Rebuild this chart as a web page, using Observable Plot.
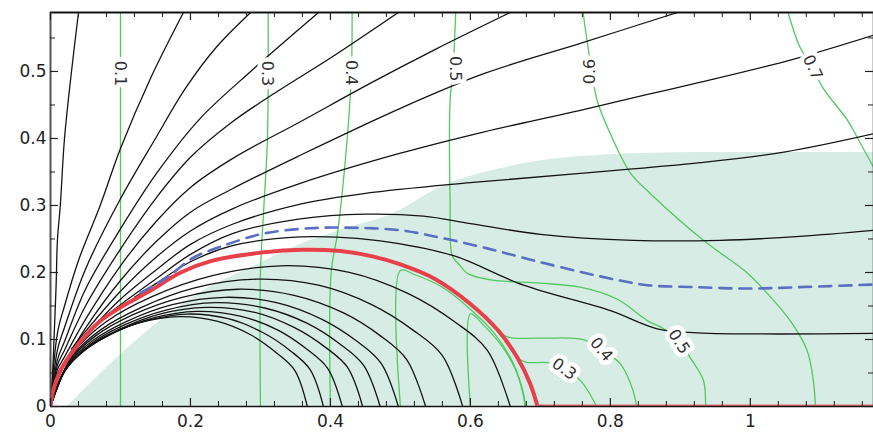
<!DOCTYPE html>
<html><head><meta charset="utf-8">
<script src="https://cdn.jsdelivr.net/npm/d3@7"></script>
<script src="https://cdn.jsdelivr.net/npm/@observablehq/plot@0.6"></script>
<style>body{margin:0;background:#fff;}</style>
</head><body><div id="chart"></div>
<script>
// ---- axis ticks ----
const xMajor = [0, 0.2, 0.4, 0.6, 0.8, 1];
const xMajorLabels = ["0", "0.2", "0.4", "0.6", "0.8", "1"];
const xMinor = [0.04,0.08,0.12,0.16,0.24,0.28,0.32,0.36,0.44,0.48,0.52,0.56,0.64,0.68,0.72,0.76,0.84,0.88,0.92,0.96,1.04,1.08,1.12,1.16];
const yMajor = [0, 0.1, 0.2, 0.3, 0.4, 0.5];
const yMajorLabels = ["0", "0.1", "0.2", "0.3", "0.4", "0.5"];
const yMinor = [0.05, 0.15, 0.25, 0.35, 0.45, 0.55];
const xMax = 1.176, yMax = 0.588;

// ---- shaded region (upper edge) ----
const tealEdge = [[0.024,0],[0.157,0.128],[0.214,0.17],[0.286,0.207],[0.357,0.242],[0.43,0.268],[0.49,0.288],[0.52,0.305],[0.547,0.322],[0.643,0.355],[0.786,0.375],[0.929,0.379],[1.176,0.379]];

// ---- black fan contours ----
const F1 = [[0,0],[0.003,0.05],[0.005,0.1],[0.008,0.18],[0.01,0.25],[0.014,0.3],[0.02,0.4],[0.03,0.5],[0.04,0.588]];
const F2 = [[0,0],[0.01,0.11],[0.02,0.15],[0.04,0.218],[0.071,0.3],[0.1,0.385],[0.143,0.49],[0.19,0.588]];
const F3 = [[0,0],[0.01,0.085],[0.02,0.118],[0.05,0.205],[0.1,0.31],[0.15,0.4],[0.193,0.475],[0.236,0.535],[0.286,0.588]];
const F4 = [[0,0],[0.01,0.07],[0.02,0.097],[0.05,0.175],[0.1,0.265],[0.153,0.35],[0.214,0.43],[0.286,0.5],[0.324,0.535],[0.383,0.588]];
const F5 = [[0,0],[0.01,0.062],[0.02,0.084],[0.05,0.15],[0.1,0.235],[0.15,0.31],[0.2,0.372],[0.26,0.425],[0.324,0.47],[0.4,0.52],[0.497,0.588]];
const F6 = [[0,0],[0.01,0.055],[0.02,0.074],[0.05,0.13],[0.1,0.21],[0.15,0.275],[0.2,0.327],[0.26,0.37],[0.357,0.425],[0.46,0.484],[0.55,0.533],[0.657,0.588]];
const F7 = [[0,0],[0.01,0.049],[0.02,0.066],[0.05,0.117],[0.1,0.188],[0.15,0.245],[0.2,0.29],[0.26,0.325],[0.357,0.375],[0.5,0.445],[0.62,0.497],[0.757,0.542],[0.896,0.588]];
const F8 = [[0.03,0.086],[0.05,0.112],[0.1,0.172],[0.15,0.222],[0.2,0.262],[0.26,0.295],[0.357,0.333],[0.5,0.378],[0.62,0.41],[0.757,0.442],[0.85,0.465],[0.929,0.484],[1.061,0.518],[1.176,0.554]];
const F9 = [[0.055,0.112],[0.1,0.16],[0.15,0.203],[0.2,0.242],[0.26,0.272],[0.357,0.302],[0.45,0.318],[0.6,0.334],[0.757,0.348],[0.929,0.364],[1.05,0.38],[1.176,0.407]];
const F10 = [[0.085,0.14],[0.1,0.152],[0.15,0.19],[0.2,0.227],[0.26,0.258],[0.357,0.28],[0.45,0.287],[0.533,0.284],[0.6,0.273],[0.7,0.257],[0.833,0.248],[0.957,0.248],[1.071,0.254],[1.176,0.263]];
const F11 = [[0.12,0.163],[0.15,0.183],[0.2,0.216],[0.26,0.24],[0.357,0.253],[0.42,0.252],[0.486,0.245],[0.576,0.225],[0.676,0.181],[0.8,0.143],[0.867,0.116],[0.924,0.11],[1.176,0.109]];

// ---- black closed arcs ----
const A1 = [[0,0],[0.033,0.08],[0.079,0.126],[0.145,0.164],[0.23,0.195],[0.329,0.21],[0.427,0.2],[0.512,0.168],[0.578,0.126],[0.624,0.084],[0.657,0]];
const A2 = [[0,0],[0.029,0.072],[0.071,0.114],[0.13,0.148],[0.206,0.177],[0.295,0.19],[0.383,0.181],[0.459,0.152],[0.518,0.114],[0.56,0.076],[0.589,0]];
const A3 = [[0,0],[0.027,0.067],[0.064,0.105],[0.118,0.137],[0.188,0.163],[0.268,0.175],[0.348,0.166],[0.418,0.14],[0.472,0.105],[0.509,0.07],[0.536,0]];
const A4 = [[0,0],[0.025,0.062],[0.06,0.098],[0.109,0.127],[0.174,0.152],[0.249,0.163],[0.323,0.155],[0.388,0.13],[0.437,0.098],[0.472,0.065],[0.497,0]];
const A5 = [[0,0],[0.024,0.059],[0.057,0.093],[0.104,0.121],[0.165,0.144],[0.236,0.155],[0.306,0.147],[0.367,0.124],[0.414,0.093],[0.447,0.062],[0.471,0]];
const A6 = [[0,0],[0.022,0.056],[0.054,0.089],[0.098,0.115],[0.156,0.138],[0.223,0.148],[0.29,0.141],[0.348,0.118],[0.392,0.089],[0.424,0.059],[0.446,0]];
const A7 = [[0,0],[0.021,0.054],[0.05,0.085],[0.092,0.111],[0.146,0.132],[0.209,0.142],[0.271,0.135],[0.325,0.114],[0.367,0.085],[0.396,0.057],[0.417,0]];
const A8 = [[0,0],[0.02,0.052],[0.047,0.083],[0.086,0.108],[0.137,0.128],[0.195,0.138],[0.254,0.131],[0.304,0.11],[0.343,0.083],[0.371,0.055],[0.39,0]];
const A9 = [[0,0],[0.018,0.051],[0.044,0.08],[0.081,0.105],[0.128,0.125],[0.184,0.134],[0.239,0.127],[0.286,0.107],[0.323,0.08],[0.349,0.054],[0.367,0]];

// ---- green contours ----
const g01 = [[0.1,0],[0.1,0.588]];
const g03 = [[0.3,0],[0.3,0.2],[0.305,0.3],[0.31,0.4],[0.311,0.588]];
const g04 = [[0.4,0],[0.401,0.2],[0.41,0.258],[0.424,0.4],[0.43,0.5],[0.431,0.588]];
const g05in = [[0.5,0],[0.5,0.203],[0.52,0.197],[0.56,0.178],[0.6,0.145],[0.635,0.108],[0.66,0.067],[0.674,0.027],[0.679,0]];
const g06in = [[0.6,0],[0.6,0.138],[0.62,0.12],[0.645,0.09],[0.664,0.056],[0.675,0.02],[0.678,0]];
const g05out = [[0.579,0.588],[0.575,0.5],[0.571,0.457],[0.571,0.307],[0.574,0.225],[0.583,0.213],[0.597,0.198],[0.629,0.189],[0.7,0.184],[0.757,0.178],[0.81,0.16],[0.853,0.128],[0.876,0.116],[0.9,0.095],[0.914,0.073],[0.933,0.039],[0.936,0.009],[0.936,0]];
const g04b = [[0.622,0.13],[0.64,0.112],[0.655,0.103],[0.7,0.102],[0.76,0.1],[0.787,0.085],[0.814,0.064],[0.829,0.034],[0.836,0.009],[0.837,0]];
const g03b = [[0.655,0.09],[0.668,0.072],[0.68,0.066],[0.715,0.065],[0.734,0.055],[0.757,0.039],[0.776,0.009],[0.78,0]];
const g06out = [[0.761,0.588],[0.771,0.516],[0.781,0.457],[0.8,0.407],[0.829,0.348],[0.857,0.318],[0.933,0.248],[0.996,0.199],[1.024,0.169],[1.057,0.128],[1.081,0.084],[1.09,0.039],[1.093,0]];
const g07 = [[1.054,0.588],[1.071,0.536],[1.089,0.506],[1.104,0.475],[1.139,0.427],[1.153,0.401],[1.176,0.357]];

// ---- red boundary & blue dashed ----
const redArc = [[0,0],[0.004,0.025],[0.015,0.055],[0.033,0.084],[0.067,0.124],[0.1,0.148],[0.143,0.173],[0.186,0.2],[0.229,0.217],[0.304,0.23],[0.36,0.234],[0.414,0.232],[0.46,0.224],[0.5,0.212],[0.55,0.19],[0.6,0.153],[0.64,0.113],[0.667,0.073],[0.685,0.035],[0.696,0]];
const redFloor = [[0.696,0],[1.176,0]];
const blueDash = [[0.129,0.17],[0.167,0.193],[0.204,0.222],[0.247,0.24],[0.304,0.258],[0.371,0.266],[0.419,0.267],[0.5,0.263],[0.557,0.252],[0.624,0.236],[0.69,0.218],[0.761,0.2],[0.814,0.188],[0.853,0.181],[0.924,0.178],[0.996,0.176],[1.067,0.178],[1.176,0.182]];

// ---- contour labels ----
const labText = ["0.1","0.3","0.4","0.5","0.6","0.7","0.5","0.4","0.3"];
const labX = [0.1, 0.31, 0.43, 0.578, 0.771, 1.089, 0.898, 0.787, 0.734];
const labY = [0.497, 0.497, 0.498, 0.504, 0.5, 0.506, 0.097, 0.085, 0.056];
const labRot = [90, 90, 90, 90, -90, 65, 58, 50, 35];

// ---- build tables ----
const toRows = (lines, tag) => lines.flatMap((a, i) => a.map(([x, y]) => ({x, y, id: tag + i})));
const black = toRows([F1,F2,F3,F4,F5,F6,F7,F8,F9,F10,F11,A1,A2,A3,A4,A5,A6,A7,A8,A9], "b");
const green = toRows([g01,g03,g04,g05in,g06in,g05out,g04b,g03b,g06out,g07], "g");
const labels = labText.map((t, i) => ({t, x: labX[i], y: labY[i], r: labRot[i]}));

const font = "DejaVu Sans, sans-serif";
const plot = Plot.plot({
  width: 873, height: 432,
  marginLeft: 50, marginRight: 0, marginTop: 12, marginBottom: 26,
  x: {domain: [0, xMax], axis: null},
  y: {domain: [0, yMax], axis: null},
  style: {fontFamily: font, background: "#fff"},
  marks: [
    Plot.areaY(tealEdge, {x: d => d[0], y1: 0, y2: d => d[1], fill: "#d7ece5", curve: "monotone-x"}),
    Plot.line(green, {x: "x", y: "y", z: "id", stroke: "#52c95f", strokeWidth: 1.3, curve: "catmull-rom", clip: true}),
    Plot.line(black, {x: "x", y: "y", z: "id", stroke: "#141414", strokeWidth: 1.3, curve: "catmull-rom", clip: true}),
    Plot.line(redArc, {x: d => d[0], y: d => d[1], stroke: "#e8404a", strokeWidth: 4, curve: "catmull-rom", clip: true}),
    Plot.line(redFloor, {x: d => d[0], y: d => d[1], stroke: "#ec6a72", strokeWidth: 4, clip: true}),
    Plot.line(blueDash, {x: d => d[0], y: d => d[1], stroke: "#5a6ec2", strokeWidth: 2.6, strokeDasharray: "12,8", curve: "catmull-rom", clip: true}),
    Plot.text(labels, {x: "x", y: "y", text: "t", rotate: "r", fontSize: 16, fill: "#333", stroke: "#fff", strokeWidth: 9, strokeLinejoin: "round"}),
    // frame
    Plot.ruleY([0], {stroke: "#111", strokeWidth: 1.6}),
    Plot.ruleY([yMax], {stroke: "#111", strokeWidth: 2}),
    Plot.ruleX([0], {stroke: "#555", strokeWidth: 2}),
    Plot.ruleX([xMax], {stroke: "#333", strokeWidth: 1.5}),
    // ticks (inward)
    Plot.ruleX(xMajor, {x: d => d, y1: 0, y2: 0.012, stroke: "#222", strokeWidth: 1.2}),
    Plot.ruleX(xMinor, {x: d => d, y1: 0, y2: 0.0075, stroke: "#222", strokeWidth: 1}),
    Plot.ruleX(xMajor, {x: d => d, y1: yMax, y2: yMax - 0.012, stroke: "#222", strokeWidth: 1.2}),
    Plot.ruleX(xMinor, {x: d => d, y1: yMax, y2: yMax - 0.0075, stroke: "#222", strokeWidth: 1}),
    Plot.ruleY(yMajor, {y: d => d, x1: 0, x2: 0.0114, stroke: "#222", strokeWidth: 1.2}),
    Plot.ruleY(yMinor, {y: d => d, x1: 0, x2: 0.0071, stroke: "#222", strokeWidth: 1}),
    Plot.ruleY(yMajor, {y: d => d, x1: xMax, x2: xMax - 0.0114, stroke: "#222", strokeWidth: 1.2}),
    Plot.ruleY(yMinor, {y: d => d, x1: xMax, x2: xMax - 0.0071, stroke: "#222", strokeWidth: 1}),
    // tick labels
    Plot.text(xMajor, {x: d => d, y: 0, text: (d, i) => xMajorLabels[i], dy: 15, fontSize: 17, fill: "#222"}),
    Plot.text(yMajor, {x: 0, y: d => d, text: (d, i) => yMajorLabels[i], textAnchor: "end", dx: -4, fontSize: 17, fill: "#222"})
  ]
});
document.getElementById("chart").appendChild(plot);
</script></body></html>
